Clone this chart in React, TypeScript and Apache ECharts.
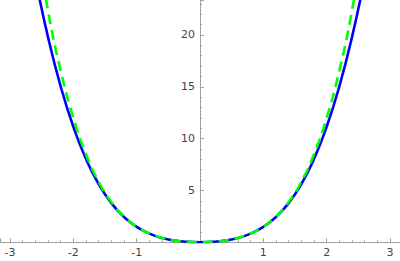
import React, { useEffect, useRef } from "react";
import * as echarts from "echarts";

const xs = [-2.6, -2.4, -2.2, -2.0, -1.8, -1.6, -1.4, -1.2, -1.0, -0.8, -0.6, -0.4, -0.2, 0, 0.2, 0.4, 0.6, 0.8, 1.0, 1.2, 1.4, 1.6, 1.8, 2.0, 2.2, 2.4, 2.6];
const blueValues = [25.47, 19.79, 15.03, 11.14, 8.03, 5.61, 3.78, 2.437, 1.487, 0.842, 0.424, 0.173, 0.041, 0, 0.041, 0.173, 0.424, 0.842, 1.487, 2.437, 3.78, 5.61, 8.03, 11.14, 15.03, 19.79, 25.47];
const greenValues = [29.61, 22.35, 16.55, 12.0, 8.489, 5.837, 3.881, 2.477, 1.5, 0.845, 0.425, 0.173, 0.041, 0, 0.041, 0.173, 0.425, 0.845, 1.5, 2.477, 3.881, 5.837, 8.489, 12.0, 16.55, 22.35, 29.61];
const xTickLabels = ["-3", "-2", "-1", "", "1", "2", "3"];
const yTickLabels = ["", "5", "10", "15", "20"];

export default function App() {
  const ref = useRef<HTMLDivElement>(null);
  useEffect(() => {
    if (!ref.current) return;
    const chart = echarts.init(ref.current, null, { renderer: "svg" });
    const axisColor = "#a0a0a0";
    const labelStyle = { color: "#444", fontSize: 11, fontFamily: "DejaVu Sans" };
    chart.setOption({
      animation: false,
      grid: { left: 0, right: 0, top: 0, bottom: 18.7, containLabel: false, outerBoundsMode: "none" },
      xAxis: {
        type: "value",
        min: -3.158,
        max: 3.158,
        minInterval: 1,
        maxInterval: 1,
        splitLine: { show: false },
        axisLine: { show: true, onZero: true, lineStyle: { color: axisColor, width: 1 } },
        axisTick: { show: true, inside: true, length: 4, lineStyle: { color: axisColor } },
        minorTick: { show: true, splitNumber: 5, length: 2, lineStyle: { color: axisColor } },
        axisLabel: {
          ...labelStyle,
          margin: 5,
          showMinLabel: false,
          showMaxLabel: false,
          formatter: (v: number) => {
            const i = Math.round(v) + 3;
            return Math.abs(v - Math.round(v)) < 1e-6 && i >= 0 && i < xTickLabels.length ? xTickLabels[i] : "";
          },
        },
      },
      yAxis: {
        type: "value",
        position: "left",
        offset: -200,
        min: 0,
        max: 23.37,
        interval: 5,
        splitLine: { show: false },
        axisLine: { show: true, onZero: false, lineStyle: { color: axisColor, width: 1 } },
        axisTick: { show: true, inside: true, length: 4, lineStyle: { color: axisColor } },
        minorTick: { show: true, splitNumber: 5, length: 2, lineStyle: { color: axisColor } },
        axisLabel: {
          ...labelStyle,
          margin: 5,
          showMaxLabel: false,
          formatter: (v: number) => {
            const i = Math.round(v / 5);
            return i >= 0 && i < yTickLabels.length ? yTickLabels[i] : "";
          },
        },
      },
      series: [
        {
          type: "line",
          data: xs.map((x, i) => [x, blueValues[i]]),
          smooth: true,
          showSymbol: false,
          lineStyle: { color: "#0000ff", width: 2.6 },
          z: 2,
        },
        {
          type: "line",
          data: xs.map((x, i) => [x, greenValues[i]]),
          smooth: true,
          showSymbol: false,
          lineStyle: { color: "#00ff00", width: 2.6, type: [10, 6] },
          z: 3,
        },
      ],
    });
    return () => chart.dispose();
  }, []);
  return <div ref={ref} style={{ width: 400, height: 261, position: "absolute", left: 0, top: 0 }} />;
}
